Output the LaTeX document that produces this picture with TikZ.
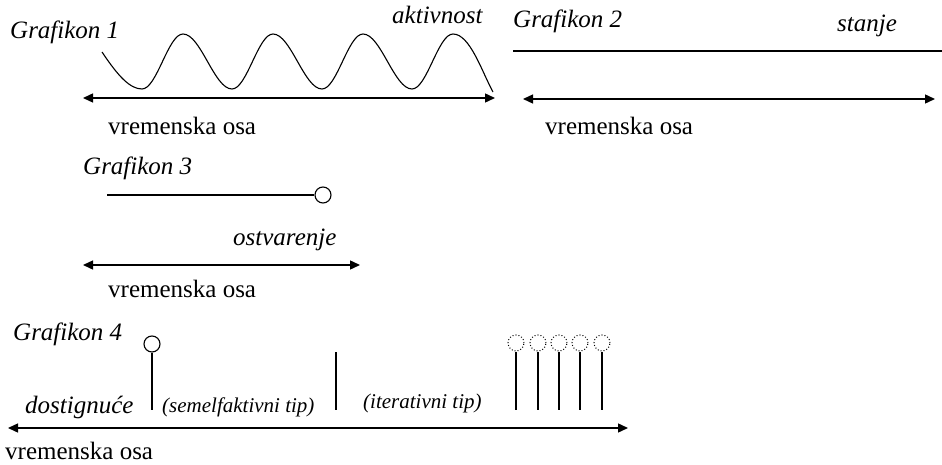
\documentclass[tikz,border=0pt]{standalone}
\usepackage{fontspec}
\setmainfont{Liberation Serif}
\usetikzlibrary{arrows.meta}
\begin{document}
\begin{tikzpicture}[x=1pt,y=-1pt,
  itl/.style={anchor=base west, inner sep=0, font=\fontsize{25}{30}\selectfont\itshape},
  reg/.style={anchor=base west, inner sep=0, font=\fontsize{25}{30}\selectfont},
  smallit/.style={anchor=base west, inner sep=0, font=\fontsize{21}{25}\selectfont\itshape},
  axis/.style={{Triangle[length=10pt,width=9pt]}-{Triangle[length=10pt,width=9pt]}, line width=1.4pt},
  curve/.style={line width=1.1pt},
  stem/.style={line width=1.2pt},
  hollow/.style={circle, draw, line width=1.1pt, minimum size=16pt, inner sep=0},
  dothollow/.style={circle, draw, dotted, line width=1pt, minimum size=16pt, inner sep=0}]
\useasboundingbox (0,0) rectangle (942,465);

% Grafikon 1
\node[itl] (g1) at (10,39) {Grafikon 1};
\node[itl] (akt) at (392,24) {aktivnost};
\draw[curve] (102,52) .. controls (118,76) and (130,89) .. (142,89)
  cos (162.5,61.5) sin (183,34) cos (207.5,61.5) sin (232,89)
  cos (252.5,61.5) sin (273,34) cos (297.5,61.5) sin (322,89)
  cos (342.5,61.5) sin (363,34) cos (387.5,61.5) sin (412,89)
  cos (432.5,61.5) sin (453,34) .. controls (470,34) and (482,72) .. (493,92);
\coordinate (a1l) at (83,98);
\coordinate (a1r) at (495,98);
\draw[axis] (a1l) -- (a1r);
\node[reg] (v1) at (108,135) {vremenska osa};

% Grafikon 2
\node[itl] (g2) at (513,28) {Grafikon 2};
\node[itl] (st) at (837,32) {stanje};
\coordinate (s2l) at (513,51);
\coordinate (s2r) at (942,51);
\draw[curve] (s2l) -- (s2r);
\coordinate (a2l) at (523,99);
\coordinate (a2r) at (935,99);
\draw[axis] (a2l) -- (a2r);
\node[reg] (v2) at (545,135) {vremenska osa};

% Grafikon 3
\node[itl] (g3) at (83,175) {Grafikon 3};
\coordinate (s3l) at (107,195);
\node[hollow] (c3) at (323,195) {};
\draw[curve] (s3l) -- (c3);
\node[itl] (ost) at (233,245) {ostvarenje};
\coordinate (a3l) at (83,265);
\coordinate (a3r) at (360,265);
\draw[axis] (a3l) -- (a3r);
\node[reg] (v3) at (108,297) {vremenska osa};

% Grafikon 4
\node[itl] (g4) at (13,340) {Grafikon 4};
\node[hollow] (c4) at (152,344) {};
\coordinate (c4b) at (152,410);
\draw[stem] (c4) -- (c4b);
\node[itl] (dos) at (25,413) {dostignuće};
\node[smallit] (sem) at (162,412) {(semelfaktivni tip)};
\coordinate (m1) at (336,352);
\coordinate (m2) at (336,410);
\draw[stem] (m1) -- (m2);
\node[smallit] (itr) at (363,408) {(iterativni tip)};
\foreach \i/\x in {1/516,2/538,3/559,4/580,5/602}{
  \node[dothollow] (d\i) at (\x,343) {};
  \coordinate (e\i) at (\x,410);
  \draw[stem] (d\i) -- (e\i);
}
\coordinate (a4l) at (8,428);
\coordinate (a4r) at (628,428);
\draw[axis] (a4l) -- (a4r);
\node[reg] (v4) at (5,459) {vremenska osa};
\end{tikzpicture}
\end{document}
